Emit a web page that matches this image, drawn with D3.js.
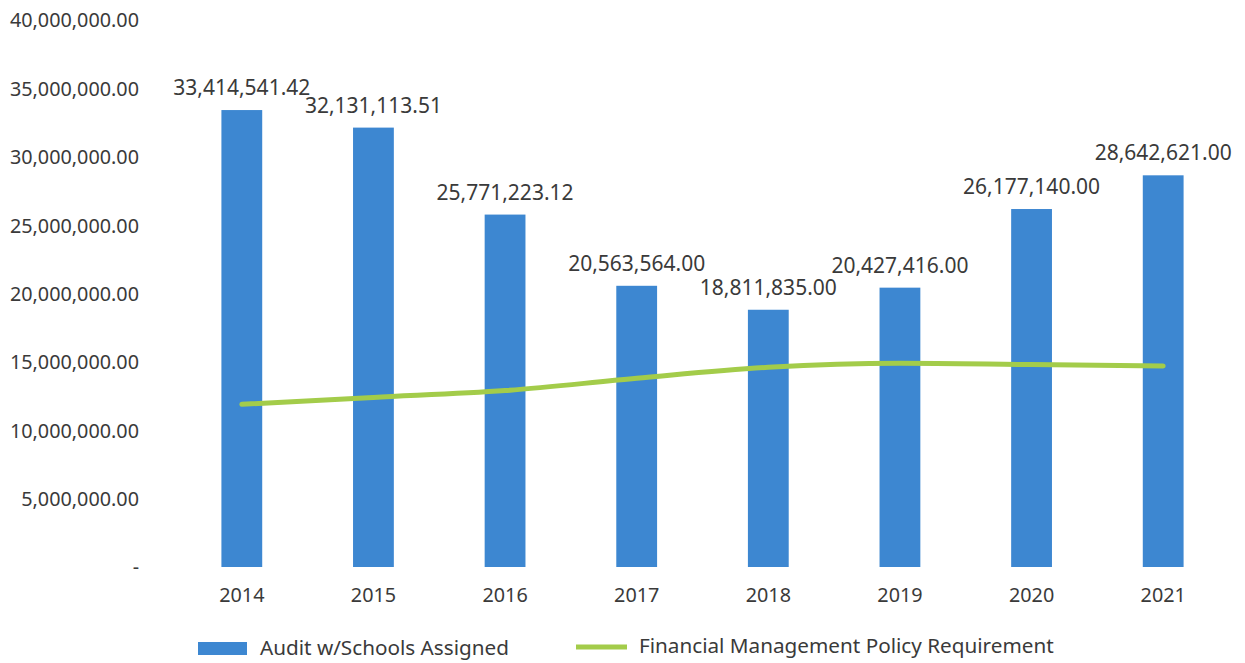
<!DOCTYPE html>
<html><head><meta charset="utf-8">
<script src="https://cdn.jsdelivr.net/npm/d3@7"></script>
<style>body{margin:0;background:#fff}svg{display:block}text{font-family:"Noto Sans",sans-serif;fill:#3a3a3a}</style>
</head><body>
<svg id="c" width="1245" height="663"></svg>
<script>
const years = ["2014","2015","2016","2017","2018","2019","2020","2021"];
const audit = [33414541.42, 32131113.51, 25771223.12, 20563564.00, 18811835.00, 20427416.00, 26177140.00, 28642621.00];
const policy = [11900000, 12400000, 12900000, 13800000, 14600000, 14900000, 14800000, 14700000];
const yTicks = [0, 5000000, 10000000, 15000000, 20000000, 25000000, 30000000, 35000000, 40000000];
const seriesNames = ["Audit w/Schools Assigned", "Financial Management Policy Requirement"];

const svg = d3.select("#c");
const x = d3.scaleBand().domain(years).range([176, 1229]).paddingInner(0.69).paddingOuter(0.345);
const y = d3.scaleLinear().domain([0, 40000000]).range([567, 20]);
const fmt = d3.format(",.2f");
const blue = "#3d87d1", green = "#a3cc4a";

// y axis
const ya = svg.append("g").attr("transform","translate(139,0)")
  .call(d3.axisLeft(y).tickValues(yTicks).tickSize(0).tickPadding(0)
    .tickFormat(d => d === 0 ? "-" : fmt(d)));
ya.select(".domain").remove();
ya.selectAll("text").style("font-size","19.8px").attr("fill","#3a3a3a").attr("dy","0.35em")
  .style("font-family","'Noto Sans',sans-serif");

// x axis
const xa = svg.append("g").attr("transform","translate(0,567)")
  .call(d3.axisBottom(x).tickSize(0).tickPadding(21));
xa.select(".domain").remove();
xa.selectAll("text").style("font-size","19.8px").attr("fill","#3a3a3a")
  .style("font-family","'Noto Sans',sans-serif");

// bars
svg.append("g").selectAll("rect").data(years).join("rect")
  .attr("x", d => x(d)).attr("width", x.bandwidth())
  .attr("y", (d,i) => y(audit[i])).attr("height", (d,i) => y(0) - y(audit[i]))
  .attr("fill", blue);

// line
const line = d3.line().x((d,i) => x(years[i]) + x.bandwidth()/2).y(d => y(d)).curve(d3.curveMonotoneX);
svg.append("path").datum(policy).attr("d", line).attr("fill","none")
  .attr("stroke", green).attr("stroke-width", 5).attr("stroke-linecap","round");

// labels
svg.append("g").selectAll("text").data(years).join("text")
  .attr("x", d => x(d) + x.bandwidth()/2).attr("y", (d,i) => y(audit[i]) - 15)
  .attr("text-anchor","middle").style("font-size","21px")
  .text((d,i) => fmt(audit[i]));

// legend
const lg = svg.append("g");
lg.append("rect").attr("x",198).attr("y",642).attr("width",49).attr("height",13).attr("fill",blue);
lg.append("text").attr("x",260).attr("y",648).attr("dy","0.35em").style("font-size","20.7px").text(seriesNames[0]);
lg.append("line").attr("x1",576).attr("x2",627).attr("y1",647).attr("y2",647).attr("stroke",green).attr("stroke-width",5);
lg.append("text").attr("x",639).attr("y",646).attr("dy","0.35em").style("font-size","20.7px").text(seriesNames[1]);
</script>
</body></html>
